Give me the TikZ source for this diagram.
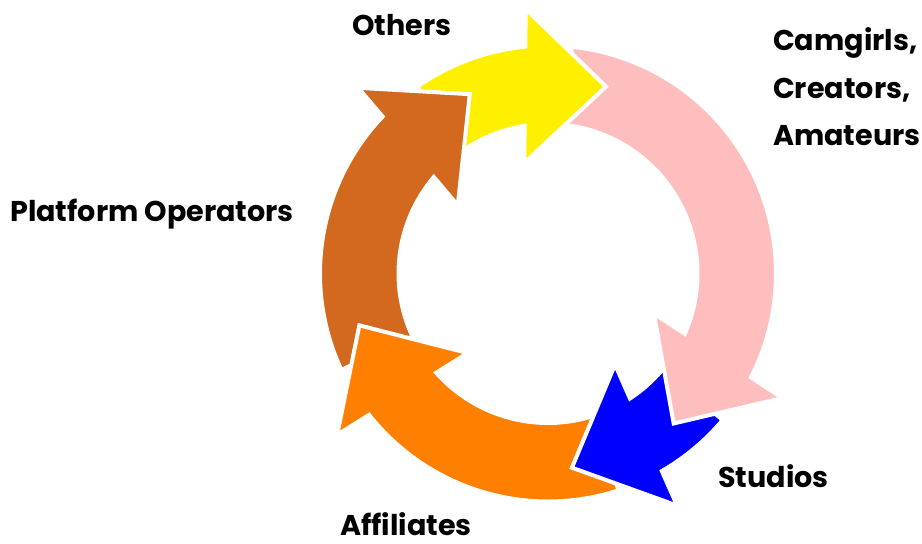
\documentclass[tikz,border=0pt]{standalone}
\usepackage{fontspec}
\setmainfont{Poppins}
\usetikzlibrary{calc}
\definecolor{cyYellow}{RGB}{255,240,0}
\definecolor{cyPink}{RGB}{255,190,190}
\definecolor{cyBlue}{RGB}{0,0,255}
\definecolor{cyOrange}{RGB}{255,128,0}
\definecolor{cyBrown}{RGB}{210,105,30}
\newcommand\cycarrow[3]{%
  \pgfmathsetmacro\cyT{#1}%
  \pgfmathsetmacro\cyB{#2}%
  \pgfmathsetmacro\cyBo{#2-1.3}%
  \pgfmathsetmacro\cyBi{#2+2}%
  \pgfmathsetmacro\cyBar{#2-7.5}%
  \pgfmathsetmacro\cyTip{#2-97.5}%
  \pgfmathsetmacro\cyIn{#2+172.5}%
  \path[cyshape, fill=#3]
    ($(C)+(\cyT:228pt)$) arc[start angle=\cyT, end angle=\cyBo, radius=228pt]
    -- ($(C)+(\cyB:189pt)+(\cyBar:77pt)$)
    -- ($(C)+(\cyB:189pt)+(\cyTip:81pt)$)
    -- ($(C)+(\cyB:189pt)+(\cyIn:77pt)$)
    -- ($(C)+(\cyBi:149.5pt)$) arc[start angle=\cyBi, end angle=\cyT, radius=149.5pt]
    -- cycle;}
\begin{document}
\begin{tikzpicture}[x=1pt,y=1pt,
  cyshape/.style={draw=white, line width=4pt, line join=miter},
  lbl/.style={anchor=base west, inner sep=0pt, font=\fontsize{28.6}{34}\selectfont\bfseries, text=black}]
\useasboundingbox (0,0) rectangle (922,544);
\coordinate (C) at (548,270.5);
\cycarrow{84}{-25.8}{cyPink}
\cycarrow{125}{97}{cyYellow}
\cycarrow{205}{137.8}{cyBrown}
\cycarrow{288}{219.6}{cyOrange}
\cycarrow{-40}{-58.75}{cyBlue}
\begin{scope}
  \clip (300,0) rectangle (922,270.5);
  \cycarrow{84}{-25.8}{cyPink}
\end{scope}
\node[lbl] (others) at (352,508) {Others};
\node[lbl] (camgirls) at (773,493.3) {Camgirls,};
\node[lbl] (creators) at (773,445.7) {Creators,};
\node[lbl] (amateurs) at (773,398) {Amateurs};
\node[lbl] (platform) at (10,322) {Platform Operators};
\node[lbl] (studios) at (718,56) {Studios};
\node[lbl] (affiliates) at (340,9) {Affiliates};
\end{tikzpicture}
\end{document}
